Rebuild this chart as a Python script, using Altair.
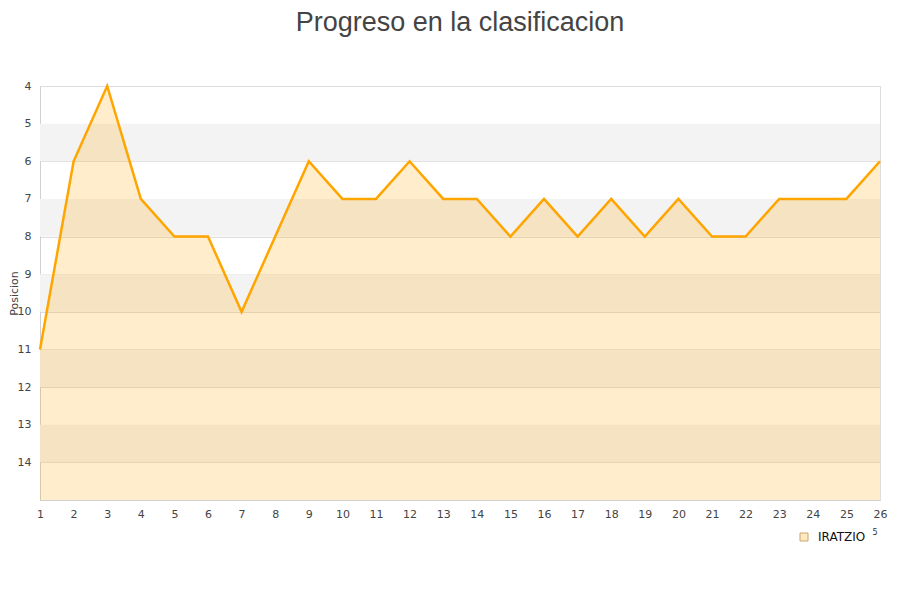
import altair as alt
import pandas as pd

jornadas = list(range(1, 27))
posiciones = [11, 6, 4, 7, 8, 8, 10, 8, 6, 7, 7, 6, 7, 7, 8, 7, 8, 7, 8, 7, 8, 8, 7, 7, 7, 6]
equipo = "IRATZIO"
band_starts = [5, 7, 9, 11, 13]
y_ticks = list(range(4, 15))
x_ticks = list(range(1, 27))

df = pd.DataFrame({"jornada": jornadas, "pos": posiciones, "equipo": [equipo] * len(jornadas)})
bands = pd.DataFrame({"y1": band_starts, "y2": [b + 1 for b in band_starts]})

xs = alt.Scale(domain=[1, 26], nice=False, zero=False)
ys = alt.Scale(domain=[4, 15], reverse=True, nice=False, zero=False)

x_axis = alt.Axis(values=x_ticks, title=None, ticks=False, grid=False, labelPadding=8,
                  labelFontSize=11, labelColor="#444", labelFont="DejaVu Sans",
                  domainColor="#d0d0d0", labelFlush=False, labelOverlap=False)
y_axis = alt.Axis(values=y_ticks, title="Posicion", ticks=False, grid=True, gridColor="#dddddd",
                  labelPadding=9, labelFontSize=11, labelColor="#444", labelFont="DejaVu Sans",
                  domainColor="#d0d0d0", titleFontSize=11, titleFont="DejaVu Sans",
                  titleColor="#444", titleFontWeight="normal", titleX=-21, labelOverlap=False)

area = alt.Chart(df).mark_area(color="#FFA500", opacity=0.2, interpolate="linear").encode(
    x=alt.X("jornada:Q", scale=xs, axis=x_axis),
    y=alt.Y("pos:Q", scale=ys, axis=y_axis),
    y2=alt.datum(15),
)

band_layer = alt.Chart(bands).mark_rect(color="#f3f3f3").encode(
    x=alt.datum(1, scale=xs, type="quantitative", axis=x_axis),
    x2=alt.datum(26),
    y=alt.Y("y1:Q", scale=ys, axis=y_axis),
    y2="y2:Q",
)

line = alt.Chart(df).mark_line(color="#FFA500", strokeWidth=2.5).encode(
    x=alt.X("jornada:Q", scale=xs, axis=x_axis),
    y=alt.Y("pos:Q", scale=ys, axis=y_axis),
)

legend_pts = alt.Chart(df).mark_point(opacity=0, shape="square").encode(
    x=alt.X("jornada:Q", scale=xs, axis=x_axis),
    y=alt.Y("pos:Q", scale=ys, axis=y_axis),
    fill=alt.Fill("equipo:N", scale=alt.Scale(range=["#ffe9c2"]),
                  legend=alt.Legend(title=None, orient="none", legendX=758, legendY=445,
                                    symbolType="square", symbolSize=64, symbolStrokeColor="#c9a66b",
                                    symbolStrokeWidth=1, symbolOpacity=1, labelFontSize=12,
                                    labelFont="DejaVu Sans", labelColor="#111", padding=0,
                                    labelOffset=8)),
)

stray = alt.Chart(pd.DataFrame({"t": ["5"]})).mark_text(fontSize=8, color="#333", font="DejaVu Sans").encode(
    text="t:N", x=alt.value(835), y=alt.value(447)
)

chart = alt.layer(band_layer, area, line, legend_pts, stray).properties(
    width=840, height=414,
    autosize=alt.AutoSizeParams(type="none"),
    padding={"left": 32, "top": 78, "right": 12, "bottom": 92},
    title=alt.TitleParams("Progreso en la clasificacion", fontSize=27, font="Liberation Sans",
                          fontWeight="normal", color="#444", anchor="middle", offset=43),
).configure_view(stroke="#dddddd", strokeWidth=1).configure_axisX(labelOverlap=False)

chart.save("out.html", embed_options={"renderer": "svg", "actions": False})
